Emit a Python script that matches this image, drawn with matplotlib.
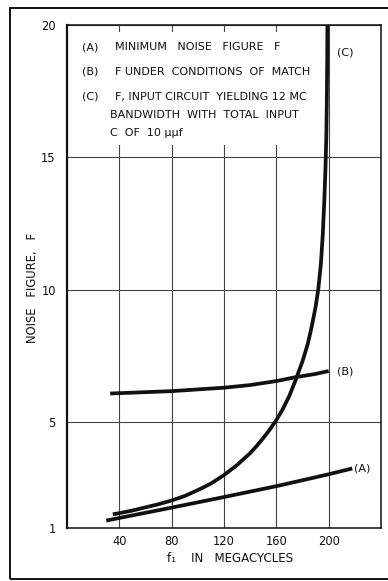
import matplotlib
matplotlib.use("Agg")
from matplotlib import pyplot as plt
from matplotlib.patches import Rectangle

# curve (A): minimum noise figure
a_freq = [30, 40, 80, 120, 160, 200, 218]
a_nf = [1.28, 1.38, 1.77, 2.17, 2.58, 3.03, 3.25]

# curve (B): F under conditions of match
b_freq = [33, 80, 120, 140, 160, 175, 190, 200]
b_nf = [6.08, 6.17, 6.30, 6.40, 6.55, 6.70, 6.82, 6.93]

# curve (C): input circuit, 12 MC bandwidth, 10 uuf
c_freq = [35, 40, 50, 60, 70, 80, 90, 100, 110, 120, 130, 140, 145, 150,
          155, 160, 165, 170, 175, 180, 184, 187, 190, 192, 194, 195.5,
          196.6, 197.5, 198.2, 198.6, 198.9, 199.1]
c_nf = [1.52, 1.56, 1.66, 1.78, 1.90, 2.04, 2.21, 2.43, 2.68, 3.00, 3.38,
        3.83, 4.10, 4.40, 4.72, 5.08, 5.50, 6.00, 6.62, 7.30, 7.95, 8.60,
        9.35, 10.0, 10.95, 12.1, 13.3, 14.5, 15.8, 17.2, 18.8, 20.5]

x_ticks = [40, 80, 120, 160, 200]
x_tick_labels = ["40", "80", "120", "160", "200"]
y_ticks = [1, 5, 10, 15, 20]
y_tick_labels = ["1", "5", "10", "15", "20"]

legend_lines = [
    ("(A)", "MINIMUM   NOISE   FIGURE   F"),
    ("(B)", "F UNDER  CONDITIONS  OF  MATCH"),
    ("(C)", "F, INPUT CIRCUIT  YIELDING 12 MC"),
    ("", "BANDWIDTH  WITH  TOTAL  INPUT"),
    ("", "C  OF  10 \u03bc\u03bcf"),
]

plt.rcParams['font.family'] = ['DejaVu Sans']
fig = plt.figure(figsize=(3.88, 5.81), dpi=100)
ax = fig.add_axes([0.1727, 0.0912, 0.8093, 0.8658])

ink = "#111111"
lw = 2.7
for xs, ys in [(a_freq, a_nf), (b_freq, b_nf), (c_freq, c_nf)]:
    ax.plot(xs, ys, color=ink, lw=lw, solid_capstyle='butt',
            solid_joinstyle='round', zorder=4)

ax.set_xlim(0, 240)
ax.set_ylim(1, 20)
ax.set_xticks(x_ticks)
ax.set_xticklabels(x_tick_labels)
ax.set_yticks(y_ticks)
ax.set_yticklabels(y_tick_labels)
ax.tick_params(length=0, labelsize=8.3, colors=ink, pad=5)
ax.tick_params(axis='y', pad=8)
ax.grid(True, color="#444444", lw=0.8, zorder=1)
ax.set_axisbelow(True)
for side in ax.spines:
    ax.spines[side].set_color(ink)
    ax.spines[side].set_linewidth(1.1)
ax.spines['left'].set_linewidth(1.6)

# white patch behind the key text hides the grid there
ax.add_patch(Rectangle((0.025, 0.762), 0.775, 0.224, transform=ax.transAxes,
                       facecolor="white", edgecolor="none", zorder=2))

fs = 8.0
key_y = [0.956, 0.907, 0.857, 0.821, 0.785]
for (tag, txt), yy in zip(legend_lines, key_y):
    if tag:
        ax.text(0.048, yy, tag, transform=ax.transAxes, fontsize=fs,
                color=ink, va='center', zorder=3)
        ax.text(0.153, yy, txt, transform=ax.transAxes, fontsize=fs,
                color=ink, va='center', zorder=3)
    else:
        ax.text(0.137, yy, txt, transform=ax.transAxes, fontsize=fs,
                color=ink, va='center', zorder=3)

ax.annotate("(A)", (a_freq[-1], a_nf[-1]), xytext=(1.5, 0),
            textcoords='offset points', fontsize=fs, color=ink, va='center')
ax.annotate("(B)", (b_freq[-1], b_nf[-1]), xytext=(6, 0),
            textcoords='offset points', fontsize=fs, color=ink, va='center')
ax.text(0.885, 0.946, "(C)", transform=ax.transAxes, fontsize=fs,
        color=ink, va='center', ha='center')

fig.text(0.085, 0.504, "NOISE   FIGURE,   F", rotation=90, fontsize=8.3,
         color=ink, ha='center', va='center')
fig.text(0.593, 0.038, "f\u2081    IN   MEGACYCLES", fontsize=8.6,
         color=ink, ha='center', va='center')

# outer frame of the printed figure (right side runs off the page)
fig.add_artist(Rectangle((0.026, 0.004), 1.0, 0.982, transform=fig.transFigure,
                         facecolor="none", edgecolor=ink, lw=1.4))

fig.savefig("out.png", dpi=100)
